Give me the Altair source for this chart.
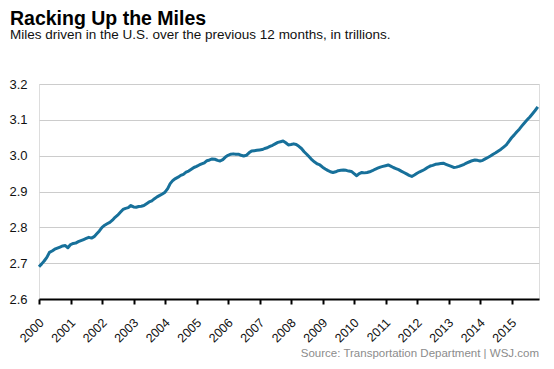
import altair as alt
import pandas as pd

# Miles driven over previous 12 months, trillions (monthly, Jan 2000 - Nov 2015)
miles_by_year = {
    2000: [2.690, 2.698, 2.706, 2.716, 2.730, 2.734, 2.739, 2.742, 2.745, 2.748, 2.749, 2.743],
    2001: [2.752, 2.755, 2.756, 2.760, 2.763, 2.766, 2.769, 2.772, 2.770, 2.774, 2.782, 2.790],
    2002: [2.800, 2.806, 2.810, 2.814, 2.820, 2.828, 2.834, 2.842, 2.850, 2.853, 2.855, 2.861],
    2003: [2.857, 2.856, 2.858, 2.859, 2.861, 2.866, 2.871, 2.874, 2.880, 2.885, 2.889, 2.893],
    2004: [2.898, 2.908, 2.922, 2.931, 2.936, 2.940, 2.945, 2.948, 2.954, 2.957, 2.962, 2.967],
    2005: [2.970, 2.974, 2.977, 2.980, 2.986, 2.988, 2.991, 2.990, 2.987, 2.985, 2.989, 2.996],
    2006: [3.001, 3.004, 3.005, 3.004, 3.004, 3.001, 2.999, 3.001, 3.008, 3.013, 3.014, 3.015],
    2007: [3.016, 3.017, 3.020, 3.022, 3.026, 3.029, 3.033, 3.037, 3.039, 3.041, 3.036, 3.030],
    2008: [3.031, 3.033, 3.031, 3.026, 3.020, 3.011, 3.004, 2.996, 2.988, 2.982, 2.977, 2.974],
    2009: [2.968, 2.963, 2.959, 2.955, 2.953, 2.955, 2.958, 2.959, 2.960, 2.959, 2.957, 2.956],
    2010: [2.950, 2.944, 2.950, 2.953, 2.952, 2.953, 2.955, 2.958, 2.962, 2.965, 2.968, 2.970],
    2011: [2.972, 2.974, 2.971, 2.967, 2.964, 2.961, 2.957, 2.953, 2.949, 2.945, 2.942, 2.946],
    2012: [2.951, 2.955, 2.958, 2.962, 2.967, 2.971, 2.973, 2.976, 2.977, 2.978, 2.979, 2.976],
    2013: [2.973, 2.970, 2.967, 2.968, 2.970, 2.973, 2.976, 2.980, 2.983, 2.986, 2.988, 2.987],
    2014: [2.985, 2.987, 2.991, 2.995, 2.999, 3.004, 3.008, 3.013, 3.018, 3.024, 3.030, 3.040],
    2015: [3.050, 3.058, 3.066, 3.074, 3.083, 3.092, 3.100, 3.108, 3.117, 3.126, 3.136],
}

y_ticks = [2.6, 2.7, 2.8, 2.9, 3.0, 3.1, 3.2]
title_text = "Racking Up the Miles"
subtitle_text = "Miles driven in the U.S. over the previous 12 months, in trillions."
source_text = "Source: Transportation Department  |  WSJ.com"

rows = []
for year, vals in miles_by_year.items():
    for m, v in enumerate(vals, start=1):
        rows.append({"date": f"{year}-{m:02d}-01T00:00:00", "miles": v})
df = pd.DataFrame(rows)

FONT = "Arial, 'Liberation Sans', sans-serif"
W, H = 500, 215

line = alt.Chart(df).mark_line(color="#17709a", strokeWidth=3, strokeJoin="round").encode(
    x=alt.X(
        "date:T",
        scale=alt.Scale(domain=[alt.DateTime(year=2000, month=1, date=1),
                                alt.DateTime(year=2015, month=11, date=15)]),
        axis=alt.Axis(
            format="%Y", tickCount="year", labelAngle=-45, labelAlign="right",
            labelBaseline="top", labelPadding=12, labelOffset=-2, labelFontSize=12.5,
            labelColor="#111", labelFont=FONT, domainColor="#000", domainWidth=2,
            tickColor="#000", tickWidth=2, tickSize=5, grid=False, title=None,
            zindex=1, labelOverlap=False,
        ),
    ),
    y=alt.Y(
        "miles:Q",
        scale=alt.Scale(domain=[2.6, 3.2], nice=False, zero=False),
        axis=alt.Axis(
            values=y_ticks, format=".1f", domain=False, ticks=False,
            gridColor="#cccccc", gridWidth=1, labelPadding=12, labelFontSize=13,
            labelColor="#111", labelFont=FONT, title=None,
        ),
    ),
)

title = alt.Chart(pd.DataFrame({"t": [title_text]})).mark_text(
    align="left", baseline="alphabetic", fontSize=19.5, fontWeight="bold",
    color="#000", font=FONT
).encode(x=alt.value(-29), y=alt.value(-59), text="t:N")

subtitle = alt.Chart(pd.DataFrame({"t": [subtitle_text]})).mark_text(
    align="left", baseline="alphabetic", fontSize=13.5, color="#111", font=FONT
).encode(x=alt.value(-29), y=alt.value(-45.5), text="t:N")

footer = alt.Chart(pd.DataFrame({"t": [source_text]})).mark_text(
    align="right", baseline="alphabetic", fontSize=11.5, color="#8c8c8c", font=FONT
).encode(x=alt.value(W), y=alt.value(H + 58), text="t:N")

chart = alt.layer(line, title, subtitle, footer).properties(
    width=W,
    height=H,
    autosize=alt.AutoSizeParams(type="none"),
    padding={"left": 31, "top": 76, "right": 7, "bottom": 60},
).configure_view(stroke=None).configure(background="white")

chart.save("out.html", embed_options={"renderer": "svg", "actions": False})
